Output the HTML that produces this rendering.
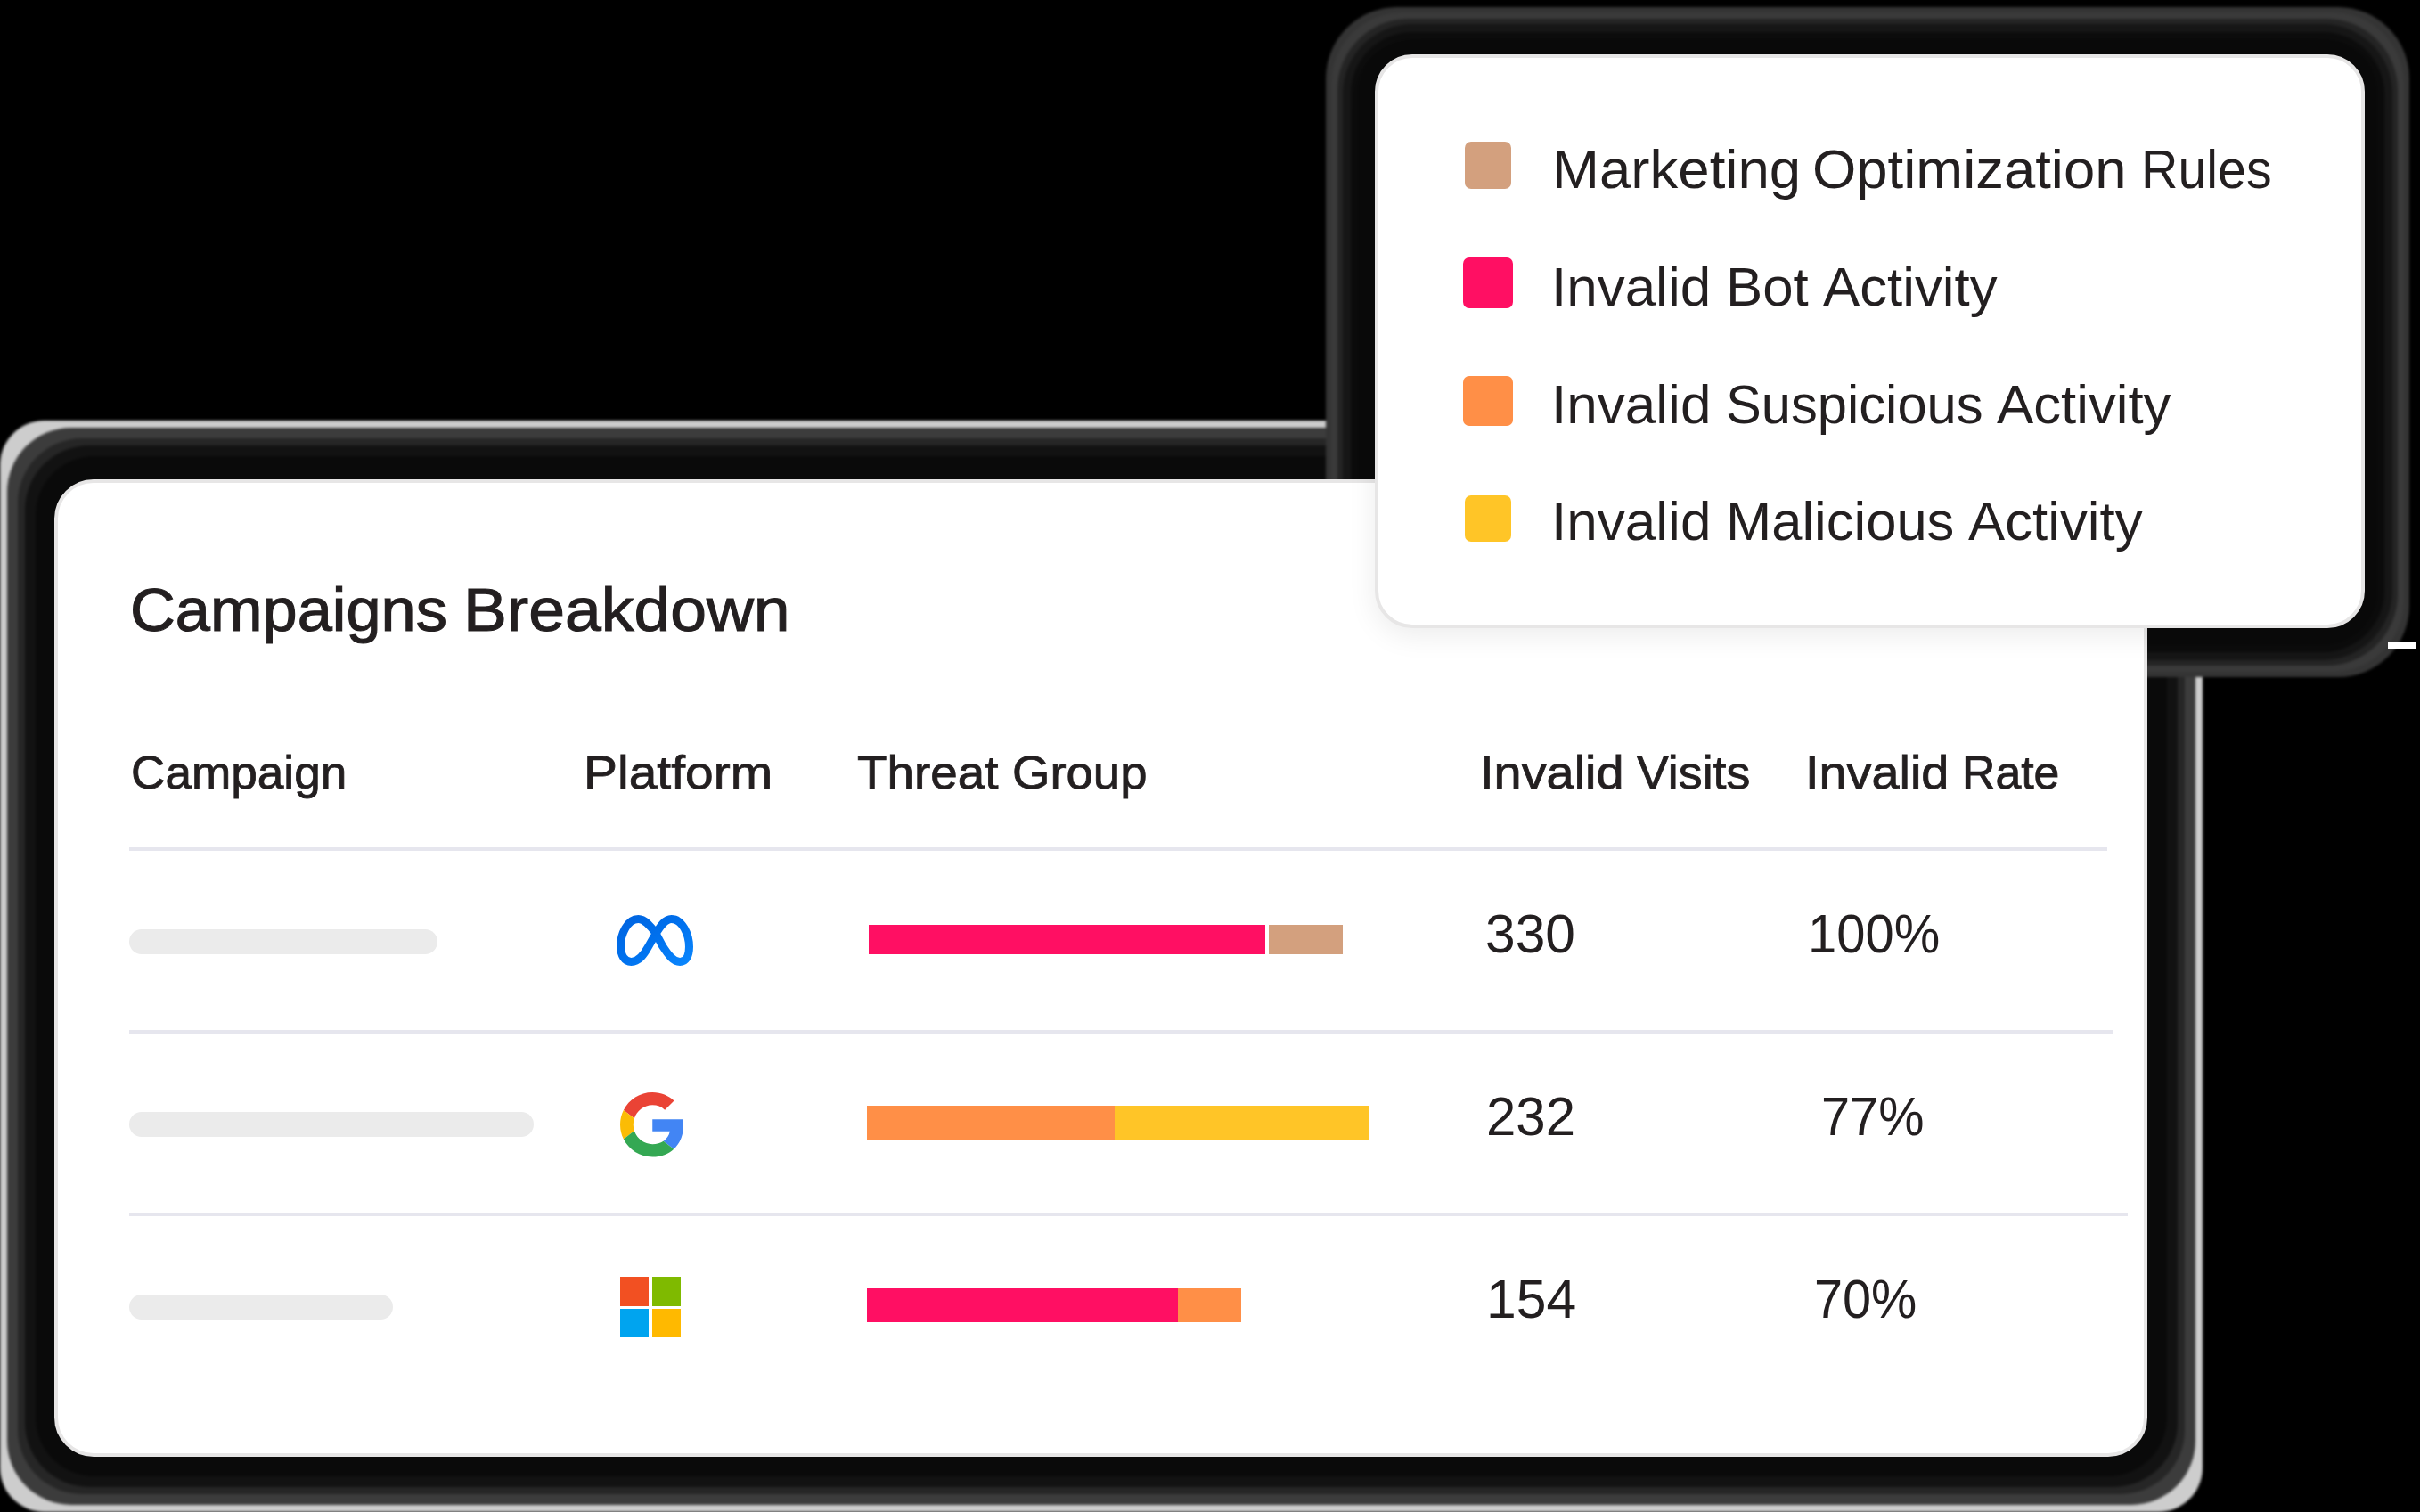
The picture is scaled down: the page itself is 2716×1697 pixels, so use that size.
<!DOCTYPE html>
<html><head><meta charset="utf-8">
<style>
html,body{margin:0;padding:0}
body{width:2716px;height:1697px;background:#000;position:relative;overflow:hidden;font-family:"Liberation Sans",sans-serif;color:#231f20}
.abs{position:absolute}
.halo{position:absolute;box-sizing:border-box}
.card{position:absolute;box-sizing:border-box;background:#fff;border:4px solid #e7e6e6}
.t{position:absolute;white-space:nowrap;line-height:1;transform-origin:0 0}
.b{font-weight:700}
.pill{position:absolute;height:28px;background:#ebebeb;border-radius:14px;left:145px}
.sep{position:absolute;height:4px;background:#e6e6ee;left:145px}
.bar{position:absolute}
.sq{position:absolute;border-radius:7px}
</style></head><body>
<div class="abs" style="left:0;top:0;width:2716px;height:1697px;filter:blur(1.5px)">
<div class="halo" style="left:0px;top:472px;width:2472px;height:1225px;border-radius:50px;background:#cdcdcd"></div>
<div class="halo" style="left:8px;top:480px;width:2456px;height:1209px;border-radius:72px;background:#3c3c3c"></div>
<div class="halo" style="left:20px;top:492px;width:2432px;height:1185px;border-radius:72px;background:#262626"></div>
<div class="halo" style="left:28px;top:500px;width:2416px;height:1169px;border-radius:72px;background:#121212"></div>
<div class="halo" style="left:40px;top:512px;width:2392px;height:1145px;border-radius:66px;background:#0a0a0a"></div>
<div class="halo" style="left:1488px;top:8px;width:1216px;height:752px;border-radius:80px;background:#343434"></div>
<div class="halo" style="left:1494px;top:14px;width:1204px;height:740px;border-radius:80px;background:#3a3a3a"></div>
<div class="halo" style="left:1501px;top:21px;width:1190px;height:726px;border-radius:80px;background:#242424"></div>
<div class="halo" style="left:1507px;top:27px;width:1178px;height:714px;border-radius:78px;background:#161616"></div>
<div class="halo" style="left:1516px;top:36px;width:1160px;height:696px;border-radius:69px;background:#0c0c0c"></div>
<div class="halo" style="left:1524px;top:44px;width:1144px;height:680px;border-radius:61px;background:#0a0a0a"></div>
</div>
<div class="abs" style="left:2680px;top:720px;width:32px;height:8px;background:#fff"></div>
<div class="card" style="left:61px;top:538px;width:2349px;height:1097px;border-radius:44px"></div>
<div class="t" style="left:145.8px;top:651.0px;font-size:67.68px;transform:scaleX(1.0395);-webkit-text-stroke:1.1px #231f20">Campaigns</div>
<div class="t" style="left:520.2px;top:651.0px;font-size:67.68px;transform:scaleX(1.0827);-webkit-text-stroke:1.1px #231f20">Breakdown</div>
<div class="t" style="left:147.0px;top:842.4px;font-size:51.16px;transform:scaleX(1.0390);-webkit-text-stroke:0.8px #231f20">Campaign</div>
<div class="t" style="left:654.6px;top:842.4px;font-size:51.16px;transform:scaleX(1.1137);-webkit-text-stroke:0.8px #231f20">Platform</div>
<div class="t" style="left:962.2px;top:842.3px;font-size:51.16px;transform:scaleX(1.0714);-webkit-text-stroke:0.8px #231f20">Threat</div>
<div class="t" style="left:1136.2px;top:842.3px;font-size:51.16px;transform:scaleX(1.0652);-webkit-text-stroke:0.8px #231f20">Group</div>
<div class="t" style="left:1661.3px;top:842.3px;font-size:51.16px;transform:scaleX(1.0929);-webkit-text-stroke:0.8px #231f20">Invalid</div>
<div class="t" style="left:1837.3px;top:842.3px;font-size:51.16px;transform:scaleX(1.0500);-webkit-text-stroke:0.8px #231f20">Visits</div>
<div class="t" style="left:2025.7px;top:842.2px;font-size:51.16px;transform:scaleX(1.0915);-webkit-text-stroke:0.8px #231f20">Invalid</div>
<div class="t" style="left:2202.0px;top:842.2px;font-size:51.16px;transform:scaleX(1.0127);-webkit-text-stroke:0.8px #231f20">Rate</div>
<div class="t" style="left:1667.2px;top:1017.7px;font-size:61.16px;transform:scaleX(0.9887)">330</div>
<div class="t" style="left:2028.6px;top:1017.7px;font-size:61.16px;transform:scaleX(0.9477)">100%</div>
<div class="t" style="left:1668.0px;top:1222.8px;font-size:61.16px;transform:scaleX(0.9802)">232</div>
<div class="t" style="left:2044.4px;top:1222.8px;font-size:61.16px;transform:scaleX(0.9436)">77%</div>
<div class="t" style="left:1668.1px;top:1428.1px;font-size:61.16px;transform:scaleX(0.9916)">154</div>
<div class="t" style="left:2036.1px;top:1428.0px;font-size:61.16px;transform:scaleX(0.9419)">70%</div>
<div class="sep" style="top:951px;width:2220px"></div>
<div class="sep" style="top:1156px;width:2226px"></div>
<div class="sep" style="top:1361px;width:2243px"></div>
<div class="pill" style="top:1043px;width:346px"></div>
<div class="pill" style="top:1248px;width:454px"></div>
<div class="pill" style="top:1453px;width:296px"></div>
<div class="bar" style="left:975px;top:1038px;width:445px;height:33px;background:#ff0f63"></div>
<div class="bar" style="left:1424px;top:1038px;width:83px;height:33px;background:#d3a07e"></div>
<div class="bar" style="left:973px;top:1241px;width:278px;height:38px;background:#ff8f47"></div>
<div class="bar" style="left:1251px;top:1241px;width:285px;height:38px;background:#ffc527"></div>
<div class="bar" style="left:973px;top:1446px;width:349px;height:38px;background:#ff0f63"></div>
<div class="bar" style="left:1322px;top:1446px;width:71px;height:38px;background:#ff8f47"></div>
<svg class="abs" style="left:692px;top:1027px" width="86" height="57" viewBox="230 230 1620 1070">
<defs><linearGradient id="mg" x1="0" y1="0" x2="1" y2="1"><stop offset="0" stop-color="#0064e0"/><stop offset="0.5" stop-color="#0071ee"/><stop offset="1" stop-color="#0a85fc"/></linearGradient></defs>
<path d="M1050,600 C950,470 830,315 690,315 C450,315 315,650 315,880 C315,1080 400,1215 540,1215 C700,1215 800,1080 900,900 L1050,640 C1150,470 1250,315 1390,315 C1620,315 1765,640 1765,900 C1765,1100 1690,1215 1570,1215 C1430,1215 1330,1080 1200,880 L1050,600 Z" fill="none" stroke="url(#mg)" stroke-width="170" stroke-linejoin="round"/>
</svg>
<svg class="abs" style="left:696px;top:1226px" width="72.5" height="72.5" viewBox="0 0 48 48">
<path fill="#EA4335" d="M24 9.5c3.54 0 6.71 1.22 9.21 3.6l6.85-6.85C35.9 2.38 30.47 0 24 0 14.62 0 6.51 5.38 2.56 13.22l7.98 6.19C12.43 13.72 17.74 9.5 24 9.5z"/>
<path fill="#4285F4" d="M46.98 24.55c0-1.57-.15-3.09-.38-4.55H24v9.02h12.94c-.58 2.96-2.26 5.480-4.78 7.18l7.73 6c4.51-4.18 7.09-10.36 7.09-17.650z"/>
<path fill="#FBBC05" d="M10.53 28.59c-.48-1.45-.76-2.99-.76-4.590s.27-3.14.76-4.59l-7.98-6.19C.92 16.46 0 20.12 0 24c0 3.88.92 7.54 2.56 10.78l7.970-6.19z"/>
<path fill="#34A853" d="M24 48c6.48 0 11.93-2.13 15.89-5.810l-7.73-6c-2.15 1.45-4.92 2.3-8.16 2.3-6.26 0-11.57-4.220-13.47-9.910l-7.98 6.190C6.51 42.62 14.62 48 24 48z"/>
</svg>
<div class="abs" style="left:696px;top:1433.2px;width:32.3px;height:32.5px;background:#f25022"></div>
<div class="abs" style="left:731.6px;top:1433.2px;width:32.3px;height:32.5px;background:#7fba00"></div>
<div class="abs" style="left:696px;top:1468.8px;width:32.3px;height:32.3px;background:#00a4ef"></div>
<div class="abs" style="left:731.6px;top:1468.8px;width:32.3px;height:32.3px;background:#ffb900"></div>
<div class="card" style="left:1543px;top:61px;width:1111px;height:644px;border-radius:42px;box-shadow:0 8px 32px rgba(0,0,0,0.08)"></div>
<div class="sq" style="left:1644px;top:159px;width:52px;height:53px;background:#d3a07e"></div>
<div class="sq" style="left:1642px;top:289px;width:56px;height:57px;background:#ff0f63"></div>
<div class="sq" style="left:1642px;top:422px;width:56px;height:56px;background:#ff8f47"></div>
<div class="sq" style="left:1644px;top:556px;width:52px;height:52px;background:#ffc527"></div>
<div class="t" style="left:1742.0px;top:159.7px;font-size:60.87px;transform:scaleX(1.0446)">Marketing</div>
<div class="t" style="left:2034.0px;top:159.7px;font-size:60.87px;transform:scaleX(1.0420)">Optimization</div>
<div class="t" style="left:2403.2px;top:159.7px;font-size:60.87px;transform:scaleX(0.9426)">Rules</div>
<div class="t" style="left:1741.4px;top:291.5px;font-size:60.87px;transform:scaleX(1.0181)">Invalid</div>
<div class="t" style="left:1937.2px;top:291.5px;font-size:60.87px;transform:scaleX(1.0151)">Bot</div>
<div class="t" style="left:2046.1px;top:291.5px;font-size:60.87px;transform:scaleX(1.0151)">Activity</div>
<div class="t" style="left:1741.2px;top:423.6px;font-size:60.87px;transform:scaleX(1.0199)">Invalid</div>
<div class="t" style="left:1936.7px;top:423.6px;font-size:60.87px;transform:scaleX(0.9806)">Suspicious</div>
<div class="t" style="left:2241.1px;top:423.6px;font-size:60.87px;transform:scaleX(1.0141)">Activity</div>
<div class="t" style="left:1741.2px;top:555.4px;font-size:60.87px;transform:scaleX(1.0199)">Invalid</div>
<div class="t" style="left:1937.3px;top:555.4px;font-size:60.87px;transform:scaleX(1.0106)">Malicious</div>
<div class="t" style="left:2209.2px;top:555.4px;font-size:60.87px;transform:scaleX(1.0146)">Activity</div>
</body></html>
